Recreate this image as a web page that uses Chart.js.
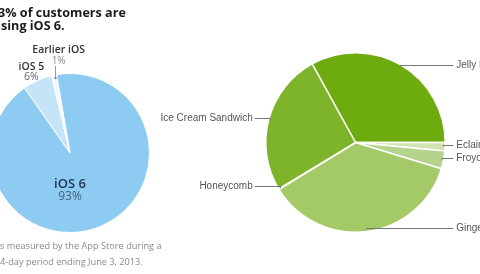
<!DOCTYPE html>
<html><head><meta charset="utf-8">
<script src="https://cdn.jsdelivr.net/npm/chart.js@4"></script>
<style>
html,body{margin:0;padding:0;background:#fff;width:480px;height:274px;overflow:hidden;position:relative}
canvas{position:absolute;top:0}
.t{position:absolute;white-space:nowrap;font-family:"Open Sans",sans-serif}
.title{font-weight:bold;font-size:12.6px;color:#1a1a1a;line-height:13px}
.foot{font-size:9.2px;color:#8a8a8a;line-height:12px}
</style></head><body>
<canvas id="left" width="500" height="274" style="left:-20px"></canvas>
<canvas id="right" width="480" height="274" style="left:0"></canvas>
<div class="t title" id="t1">93% of customers are</div>
<div class="t title" id="t2">using iOS 6.</div>
<div class="t foot" id="f1">As measured by the App Store during a</div>
<div class="t foot" id="f2">14-day period ending June 3, 2013.</div>
<script>
// ---- data ----
const iosLabels = ['iOS 6', 'iOS 5', 'Earlier iOS'];
const iosValues = [93, 6, 1];
const iosPct = ['93%', '6%', '1%'];
const androidLabels = ['Jelly Bean', 'Eclair', 'Froyo', 'Gingerbread', 'Honeycomb', 'Ice Cream Sandwich'];
const androidValues = [33.0, 1.5, 3.2, 36.5, 0.1, 25.6];

// crop text so its hidden prefix sits left of the page edge
function place(id, prefix, x, y) {
  const el = document.getElementById(id);
  const s = getComputedStyle(el);
  const c = document.createElement('canvas').getContext('2d');
  c.font = s.fontWeight + ' ' + s.fontSize + ' ' + s.fontFamily;
  el.style.left = (x - c.measureText(prefix).width) + 'px';
  el.style.top = y + 'px';
}
place('t1', '9', -2, 6);
place('t2', 'u', 1, 19);
place('f1', 'A', 0, 240);
place('f2', '1', 0, 256);

const iosLabelPlugin = {
  id: 'iosLabels',
  afterDraw(chart) {
    const ctx = chart.ctx;
    const arcs = chart.getDatasetMeta(0).data;
    ctx.save();
    ctx.textAlign = 'center';
    ctx.textBaseline = 'middle';
    arcs.forEach((arc, i) => {
      const p = arc.getProps(['x', 'y', 'startAngle', 'endAngle', 'outerRadius'], true);
      const mid = (p.startAngle + p.endAngle) / 2;
      const r = p.outerRadius;
      if (i === 0) {
        ctx.fillStyle = '#1f3549';
        ctx.font = '600 13px "Open Sans"';
        ctx.fillText(chart.data.labels[i], p.x, p.y + r * 0.39);
        ctx.fillStyle = '#4a6378';
        ctx.font = '12px "Open Sans"';
        ctx.fillText(iosPct[i], p.x, p.y + r * 0.39 + 13);
      } else if (i === 1) {
        const ax = p.x + Math.cos(mid) * (r + 10) - 2;
        const ay = p.y + Math.sin(mid) * (r + 10);
        ctx.fillStyle = '#333';
        ctx.font = '600 10.5px "Open Sans"';
        ctx.fillText(chart.data.labels[i], ax, ay - 4);
        ctx.fillStyle = '#666';
        ctx.font = '10.5px "Open Sans"';
        ctx.fillText(iosPct[i], ax, ay + 6);
      } else {
        const ax = p.x + Math.cos(mid) * (r - 3);
        const ay = p.y + Math.sin(mid) * (r - 3);
        ctx.strokeStyle = '#999';
        ctx.lineWidth = 1;
        ctx.beginPath();
        ctx.moveTo(Math.round(ax) + 0.5, ay);
        ctx.lineTo(Math.round(ax) + 0.5, ay - 12);
        ctx.stroke();
        ctx.fillStyle = '#888';
        ctx.beginPath(); ctx.arc(Math.round(ax) + 0.5, ay, 1.2, 0, Math.PI * 2); ctx.fill();
        ctx.fillStyle = '#888';
        ctx.font = '10px "Open Sans"';
        ctx.fillText(iosPct[i], ax + 4, ay - 17);
        ctx.fillStyle = '#333';
        ctx.font = '600 10.5px "Open Sans"';
        ctx.fillText(chart.data.labels[i], ax + 4, ay - 28);
      }
    });
    ctx.restore();
  }
};

const androidLabelPlugin = {
  id: 'androidLabels',
  afterDraw(chart) {
    const ctx = chart.ctx;
    const arcs = chart.getDatasetMeta(0).data;
    ctx.save();
    ctx.font = '10px "Liberation Sans"';
    ctx.textBaseline = 'middle';
    ctx.strokeStyle = '#777';
    ctx.lineWidth = 1;
    arcs.forEach((arc, i) => {
      const p = arc.getProps(['x', 'y', 'startAngle', 'endAngle', 'outerRadius'], true);
      const mid = (p.startAngle + p.endAngle) / 2;
      const r = p.outerRadius;
      const ax = p.x + Math.cos(mid) * (r - 2);
      const ay = p.y + Math.sin(mid) * (r - 2);
      const ly = Math.round(ay - 2) + 0.5;
      const right = Math.cos(mid) >= 0;
      const ex = right ? p.x + r + 8 : p.x - r - 11;
      ctx.beginPath();
      ctx.moveTo(ax, ay);
      ctx.lineTo(ax, ly);
      ctx.lineTo(ex, ly);
      ctx.stroke();
      ctx.fillStyle = '#555';
      ctx.textAlign = right ? 'left' : 'right';
      ctx.fillText(chart.data.labels[i], right ? ex + 3 : ex - 2, ly);
    });
    ctx.restore();
  }
};

new Chart(document.getElementById('left'), {
  type: 'pie',
  data: {
    labels: iosLabels,
    datasets: [{
      data: iosValues,
      backgroundColor: ['#8ecbf3', '#c6e4f8', '#f3f8fc'],
      borderColor: '#ffffff',
      borderWidth: 1
    }]
  },
  options: {
    responsive: false, animation: false, rotation: -9.8,
    layout: { padding: { left: 10, top: 73, right: 330, bottom: 41 } },
    plugins: { legend: { display: false }, tooltip: { enabled: false } }
  },
  plugins: [iosLabelPlugin]
});

new Chart(document.getElementById('right'), {
  type: 'pie',
  data: {
    labels: androidLabels,
    datasets: [{
      data: androidValues,
      backgroundColor: ['#6dab0e', '#cfe4ae', '#b6d38d', '#a4c967', '#7fb42c', '#7eb42a'],
      borderColor: '#ffffff',
      borderWidth: 1.5
    }]
  },
  options: {
    responsive: false, animation: false, rotation: -28.9,
    layout: { padding: { left: 265, top: 52, right: 34, bottom: 41 } },
    plugins: { legend: { display: false }, tooltip: { enabled: false } }
  },
  plugins: [androidLabelPlugin]
});
</script>
</body></html>
